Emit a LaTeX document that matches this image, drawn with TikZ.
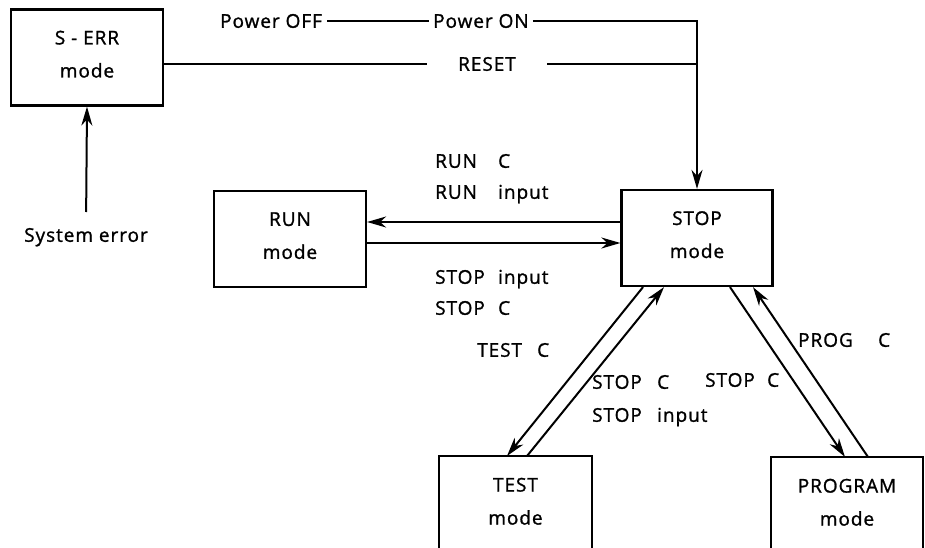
\documentclass[tikz,border=0pt]{standalone}
\usepackage{fontspec}
\setmainfont[LetterSpace=5,FakeBold=1.2]{Open Sans}
\usetikzlibrary{arrows.meta,calc}
\begin{document}
\begin{tikzpicture}[x=1pt,y=-1pt,
  every node/.style={font=\fontsize{19}{33}\selectfont},
  box/.style={draw,line width=2.2pt,minimum width=152pt,minimum height=96pt,align=center,text depth=6.8pt,inner sep=0pt},
  lbl/.style={anchor=west,inner sep=0pt,text height=13.6pt,text depth=0pt},
  ln/.style={line width=2pt},
  arr/.style={line width=2pt,-{Stealth[length=19pt,width=11pt,inset=6pt]}}]
\useasboundingbox (0,0) rectangle (925,548);
\clip (0,0) rectangle (925,548);
% boxes
\node[box] (serr) at (87,57.5) {S - ERR\\mode};
\node[box] (run) at (290,239) {RUN\\mode};
\node[box,minimum width=151pt] (stop) at (697,238) {STOP\\mode};
\node[box,draw=none,minimum width=151pt,minimum height=95pt,anchor=north] (test) at (515.5,456) {TEST\\mode};
\draw[line width=2.2pt] (test.south west) -- (test.north west) -- (test.north east) -- (test.south east);
\node[box,draw=none,minimum width=150pt,minimum height=95pt,anchor=north] (prog) at (847,457) {PROGRAM\\mode};
\draw[line width=2.2pt] (prog.south west) -- (prog.north west) -- (prog.north east) -- (prog.south east);
% top labels
\node[lbl,inner xsep=5pt] (pwoff) at (215,21) {Power OFF};
\node[lbl,inner xsep=4pt] (pwon) at (429,21) {Power ON};
\node[lbl,inner xsep=31pt] (reset) at (427,64) {RESET};
\node[lbl,anchor=center] (syserr) at (86,235) {System error};
% other labels
\node[lbl] (runc) at (435,161) {\makebox[63pt][l]{RUN}C};
\node[lbl] (runin) at (435,192) {\makebox[63pt][l]{RUN}input};
\node[lbl] (stopin) at (435,277) {\makebox[63pt][l]{STOP}input};
\node[lbl] (stopc) at (435,308) {\makebox[63pt][l]{STOP}C};
\node[lbl] (testc) at (477,350) {\makebox[60pt][l]{TEST}C};
\node[lbl] (stopcb) at (592,382) {\makebox[65pt][l]{STOP}C};
\node[lbl] (stopinb) at (592,415) {\makebox[65pt][l]{STOP}input};
\node[lbl] (stopcc) at (705,380) {\makebox[62pt][l]{STOP}C};
\node[lbl] (progc) at (798,340) {\makebox[80pt][l]{PROG}C};
% connectors
\draw[ln] (pwoff.east) -- (pwon.west);
\draw[arr] (pwon.east) -| (stop.north);
\draw[ln] (serr.east |- reset.west) -- (reset.west);
\draw[ln] (reset.east) -- (reset.east -| stop.north);
\draw[arr,shorten <=16pt] (syserr.north) -- (serr.south);
\draw[arr] ([yshift=16pt]stop.west) -- ([yshift=16pt]stop.west -| run.east);
\draw[arr] ([yshift=-5pt]stop.west -| run.east) -- ([yshift=-5pt]stop.west);
\draw[arr] ([xshift=-54pt]stop.south) -- ([xshift=-8.5pt]test.north);
\draw[arr] ([xshift=11.5pt]test.north) -- ([xshift=-33pt]stop.south);
\draw[arr] ([xshift=33pt]stop.south) -- ([xshift=-2pt]prog.north);
\draw[arr] ([xshift=21pt]prog.north) -- ([xshift=56pt]stop.south);
\end{tikzpicture}
\end{document}
